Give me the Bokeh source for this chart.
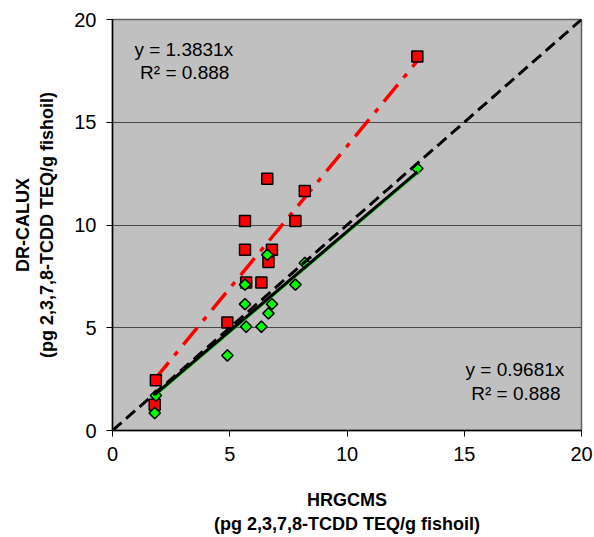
import math
from bokeh.plotting import figure
from bokeh.models import Label, Range1d, FixedTicker, ColumnDataSource
from bokeh.embed import file_html
from bokeh.resources import INLINE

# HRGCMS (x) values shared by both series
hrgcms = [13.0, 6.6, 8.2, 5.65, 7.8, 5.65, 6.8, 6.65, 5.7, 6.35, 4.9, 1.85, 1.8]
# DR-CALUX raw (red squares)
calux_red = [18.2, 12.25, 11.65, 10.2, 10.2, 8.8, 8.8, 8.2, 7.2, 7.2, 5.25, 2.45, 1.25]
# DR-CALUX corrected (green diamonds)
calux_green = [12.75, 8.55, 8.15, 7.1, 7.1, 6.15, 6.15, 5.7, 5.05, 5.05, 3.65, 1.7, 0.85]

slope_red = 1.3831
slope_green = 0.9681
r2_red = 0.888
r2_green = 0.888
ticks = [0, 5, 10, 15, 20]

FONT = "Liberation Sans"

p = figure(width=594, height=537, output_backend="svg", toolbar_location=None,
           x_range=Range1d(0, 20), y_range=Range1d(0, 20),
           min_border_left=112, min_border_right=13, min_border_top=19, min_border_bottom=107)

p.background_fill_color = "#C0C0C0"
p.border_fill_color = "white"
p.outline_line_color = "#606060"
p.outline_line_width = 1.5

p.xgrid.grid_line_color = None
p.ygrid.grid_line_color = "#4a4a4a"
p.ygrid.grid_line_width = 1

for ax in (p.xaxis[0], p.yaxis[0]):
    ax.ticker = FixedTicker(ticks=ticks)
    ax.minor_tick_line_color = None
    ax.major_tick_in = 0
    ax.major_tick_out = 6
    ax.axis_line_color = "black"
    ax.axis_line_width = 1.5
    ax.major_tick_line_color = "black"
    ax.major_label_text_font = FONT
    ax.major_label_text_font_size = "20px"
    ax.major_label_text_color = "black"
    ax.major_label_standoff = 10
    ax.axis_label_text_font = FONT
    ax.axis_label_text_font_style = "bold"
    ax.axis_label_text_color = "black"
    ax.axis_label_text_font_size = "18px"

p.xaxis.axis_label = "HRGCMS\n(pg 2,3,7,8-TCDD TEQ/g fishoil)"
p.yaxis.axis_label = "DR-CALUX\n(pg 2,3,7,8-TCDD TEQ/g fishoil)"
p.xaxis.axis_label_standoff = 26
p.yaxis.axis_label_standoff = 14

# red trendline (dash-dot)
xr_min, xr_max = min(hrgcms), max(hrgcms)
p.line([xr_min, xr_max], [slope_red * xr_min, slope_red * xr_max],
       line_color="red", line_width=3.5, line_dash="22 9 5 9")

src = ColumnDataSource(dict(x=hrgcms, red=calux_red, green=calux_green))
p.scatter("x", "red", source=src, marker="square", size=11,
          fill_color="red", line_color="black", line_width=1.5)
p.scatter("x", "green", source=src, marker="square", angle=math.pi / 4, size=8,
          fill_color="#00FF00", line_color="black", line_width=1.5)

# green trendline + black line
p.line([xr_min + 0.09, xr_max + 0.09], [slope_green * xr_min, slope_green * xr_max],
       line_color="#00DD00", line_width=1.5)
p.line([xr_min, xr_max], [slope_green * xr_min, slope_green * xr_max],
       line_color="black", line_width=3)

# 1:1 line
p.line([0, 20], [0, 20], line_color="black", line_width=3, line_dash="12 6")

def lab(x, y, t):
    p.add_layout(Label(x=x, y=y, text=t, text_font=FONT, text_font_size="19px",
                       text_align="center", text_baseline="middle", text_color="black"))

lab(3.04, 18.54, f"y = {slope_red}x")
lab(3.08, 17.4, f"R² = {r2_red}")
lab(17.16, 2.98, f"y = {slope_green}x")
lab(17.2, 1.8, f"R² = {r2_green}")

open("out.html", "w").write(file_html(p, INLINE))
